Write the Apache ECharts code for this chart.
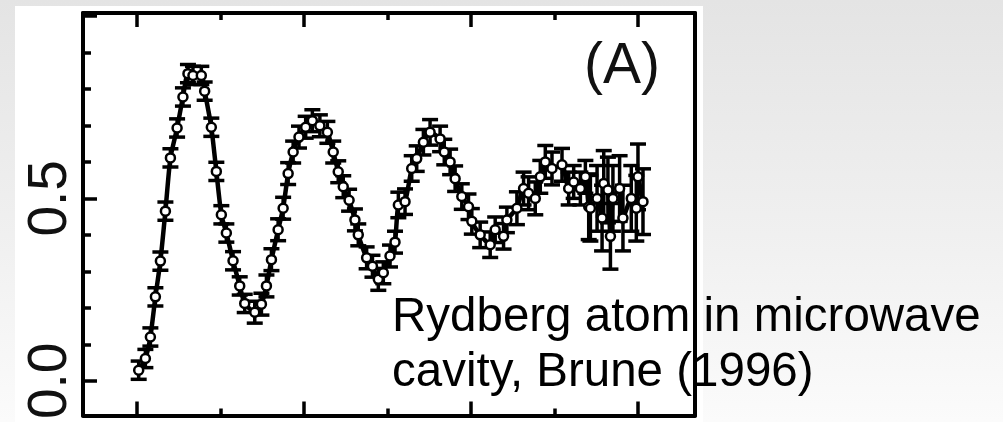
<!DOCTYPE html>
<html>
<head>
<meta charset="utf-8">
<script src="https://cdn.jsdelivr.net/npm/echarts@6/dist/echarts.min.js"></script>
<style>
  html, body { margin: 0; padding: 0; }
  body { width: 1003px; height: 422px; overflow: hidden; position: relative;
         background: linear-gradient(to bottom, #e4e4e4 0%, #f1f1f1 60%, #fbfbfb 100%); }
  #paper { position: absolute; left: 15px; top: 6px; width: 688px; height: 416px; background: #ffffff; }
  #chart { position: absolute; left: 0; top: 0; width: 1003px; height: 422px; }
</style>
</head>
<body>
<div id="paper"></div>
<div id="chart"></div>
<script>
// ---- data (t in arbitrary time units, P = probability) ----
var tData = [0.2,1.0,1.6,2.2,2.8,3.4,4.0,4.8,5.5,6.1,6.7,7.7,8.1,8.9,9.5,10.1,10.7,11.5,12.3,12.9,
             14.1,14.9,15.5,16.1,16.9,17.5,18.1,18.7,19.4,20.2,21.0,21.9,22.8,23.5,24.1,24.7,25.4,26.1,26.5,27.5,
             28.2,28.9,29.5,30.3,30.9,31.3,32.1,32.9,33.5,34.3,35.1,36.3,36.8,37.5,38.1,38.9,39.7,40.1,41.1,42.3,
             42.9,43.9,44.3,45.5,46.3,46.9,47.7,48.3,48.9,49.7,50.9,51.7,52.3,53.1,53.7,54.1,54.3,55.1,55.7,55.9,
             56.4,56.7,57.0,57.8,58.2,59.2,59.8,60.0,60.6];
var pData = [0.029,0.061,0.120,0.230,0.328,0.465,0.611,0.693,0.778,0.842,0.837,0.837,0.794,0.695,0.574,0.455,0.405,0.329,0.260,0.212,
             0.188,0.210,0.260,0.332,0.414,0.473,0.568,0.627,0.668,0.695,0.713,0.699,0.681,0.627,0.573,0.532,0.495,0.441,0.400,0.337,
             0.314,0.278,0.296,0.342,0.380,0.482,0.491,0.582,0.609,0.654,0.681,0.663,0.627,0.600,0.554,0.505,0.477,0.437,0.400,0.373,
             0.414,0.396,0.441,0.473,0.527,0.514,0.500,0.559,0.600,0.582,0.592,0.527,0.545,0.527,0.559,0.477,0.473,0.500,0.446,0.541,
             0.523,0.396,0.500,0.527,0.446,0.500,0.473,0.559,0.491];
var errData = [0.025,0.025,0.025,0.025,0.025,0.025,0.025,0.025,0.025,0.025,0.025,0.025,0.025,0.025,0.025,0.025,0.025,0.025,0.025,0.025,
               0.03,0.03,0.03,0.03,0.03,0.03,0.03,0.03,0.03,0.03,0.03,0.03,0.03,0.03,0.03,0.03,0.03,0.03,0.03,0.03,
               0.03,0.03,0.03,0.03,0.03,0.035,0.035,0.035,0.035,0.035,0.035,0.035,0.035,0.035,0.035,0.035,0.035,0.035,0.035,0.035,
               0.035,0.035,0.035,0.045,0.045,0.045,0.045,0.045,0.045,0.045,0.045,0.045,0.045,0.045,0.045,0.09,0.09,0.09,0.09,0.09,
               0.09,0.09,0.09,0.09,0.09,0.09,0.09,0.09,0.09];

var xMajorTicks = [0, 20, 40, 60];
var xMinorTicks = [10, 30, 50];
var yMajorTicks = [0, 0.5, 1.0];
var yMinorTicks = [0.1, 0.2, 0.3, 0.4, 0.6, 0.7, 0.8, 0.9];
var yLabelValues = [0, 0.5];
var panelLabel = '(A)';
var captionLines = ['Rydberg atom in microwave', 'cavity, Brune (1996)'];

// ---- chart ----
var X_MIN = -6.47, X_MAX = 66.83, Y_MIN = -0.0951, Y_MAX = 1.0082;
var FONT = '"Liberation Sans", Arial, Helvetica, sans-serif';

var points = tData.map(function (t, i) { return [t, pData[i]]; });
var bars = tData.map(function (t, i) { return [t, pData[i] - errData[i], pData[i] + errData[i]]; });

function xAx(pos, ticks, len, line) {
  return {
    type: 'value', position: pos, min: X_MIN, max: X_MAX, gridIndex: 0,
    axisLine: { show: line, onZero: false, lineStyle: { color: '#000', width: 4 } },
    axisTick: { show: true, inside: true, length: len, customValues: ticks, lineStyle: { color: '#000', width: 3.5 } },
    axisLabel: { show: false }, splitLine: { show: false }
  };
}
function yAx(pos, ticks, len, line, labels) {
  var ax = {
    type: 'value', position: pos, min: Y_MIN, max: Y_MAX, gridIndex: 0,
    axisLine: { show: line, onZero: false, lineStyle: { color: '#000', width: 4 } },
    axisTick: { show: ticks.length > 0, inside: true, length: len, customValues: ticks, lineStyle: { color: '#000', width: 3.5 } },
    axisLabel: { show: false }, splitLine: { show: false }
  };
  if (labels) {
    ax.axisLabel = {
      show: true, customValues: labels, rotate: 90, margin: 5,
      fontSize: 55, fontFamily: FONT, color: '#111',
      formatter: function (v) { return Number(v).toFixed(1); }
    };
  }
  return ax;
}

var chart = echarts.init(document.getElementById('chart'), null, { renderer: 'canvas' });
chart.setOption({
  backgroundColor: 'transparent',
  animation: false,
  grid: { left: 83, top: 13, width: 612, height: 406, containLabel: false },
  xAxis: [
    xAx('bottom', xMajorTicks, 14, true),
    xAx('bottom', xMinorTicks, 7, false),
    xAx('top', xMajorTicks, 14, true),
    xAx('top', xMinorTicks, 7, false)
  ],
  yAxis: [
    yAx('left', yMajorTicks, 14, true, yLabelValues),
    yAx('left', yMinorTicks, 8, false, null),
    yAx('right', [], 0, true, null)
  ],
  series: [
    {
      type: 'line', data: points, xAxisIndex: 0, yAxisIndex: 0,
      symbol: 'none', smooth: 0.2,
      lineStyle: { color: '#000', width: 4.5 }, z: 2
    },
    {
      type: 'custom', data: bars, xAxisIndex: 0, yAxisIndex: 0, z: 3,
      renderItem: function (params, api) {
        var x = api.value(0), lo = api.value(1), hi = api.value(2);
        var a = api.coord([x, hi]), b = api.coord([x, lo]);
        var hw = 8;
        var st = { stroke: '#000', lineWidth: 3.5 };
        return { type: 'group', children: [
          { type: 'line', shape: { x1: a[0], y1: a[1], x2: b[0], y2: b[1] }, style: st },
          { type: 'line', shape: { x1: a[0] - hw, y1: a[1], x2: a[0] + hw, y2: a[1] }, style: st },
          { type: 'line', shape: { x1: b[0] - hw, y1: b[1], x2: b[0] + hw, y2: b[1] }, style: st }
        ]};
      }
    },
    {
      type: 'scatter', data: points, xAxisIndex: 0, yAxisIndex: 0, z: 4,
      symbol: 'circle', symbolSize: 9,
      itemStyle: { color: '#fff', borderColor: '#000', borderWidth: 2.5, opacity: 1 }
    }
  ],
  graphic: [
    { type: 'text', left: 584, top: 39, z: 10,
      style: { text: panelLabel, fontSize: 57, fontFamily: FONT, fill: '#111' } },
    { type: 'text', left: 392, top: 290, z: 10,
      style: { text: captionLines.join('\n'), fontSize: 47.5, lineHeight: 55, fontFamily: FONT, fill: '#000' } }
  ]
});
</script>
</body>
</html>
